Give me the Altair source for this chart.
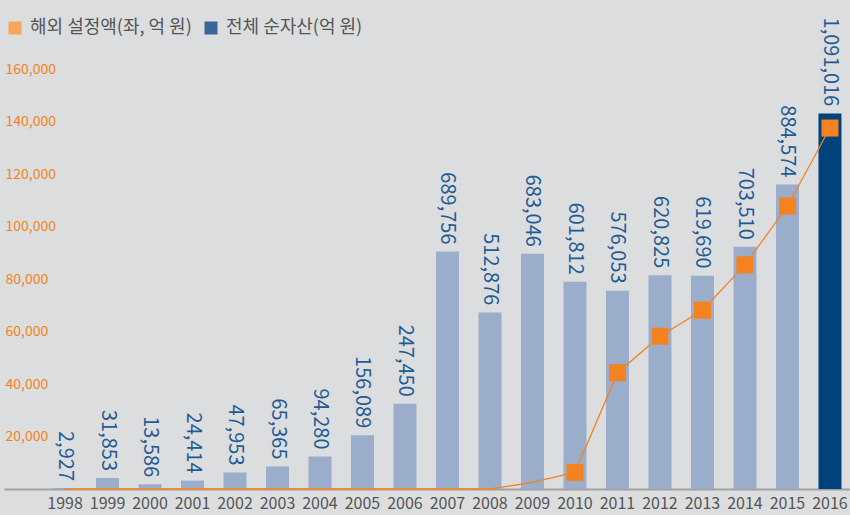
import altair as alt
import pandas as pd

years = ["1998", "1999", "2000", "2001", "2002", "2003", "2004", "2005", "2006", "2007",
         "2008", "2009", "2010", "2011", "2012", "2013", "2014", "2015", "2016"]
total_assets = [2927, 31853, 13586, 24414, 47953, 65365, 94280, 156089, 247450, 689756,
                512876, 683046, 601812, 576053, 620825, 619690, 703510, 884574, 1091016]
overseas = [0, 0, 0, 0, 0, 0, 0, 0, 0, 0, 0, 2500, 6300, 44300, 58200, 68100, 85400, 107800, 137500]
marker_years = ["2010", "2011", "2012", "2013", "2014", "2015", "2016"]
legend_names = ["해외 설정액(좌, 억 원)", "전체 순자산(억 원)"]
legend_colors = ["#F9A55A", "#3A6698"]
y_ticks = [20000, 40000, 60000, 80000, 100000, 120000, 140000, 160000]

df = pd.DataFrame({
    "year": years,
    "total": total_assets,
    "overseas": overseas,
})
df["label"] = df["total"].map(lambda v: f"{v:,}")
df["latest"] = df["year"] == "2016"
df["marker"] = df["year"].isin(marker_years)

FONT = "Noto Sans CJK KR"

xscale = alt.Scale(paddingInner=0.459, paddingOuter=0.683, align=0.853)
x = alt.X("year:N", scale=xscale, sort=years,
          axis=alt.Axis(title=None, labelAngle=0, labelFontSize=16, labelColor="#555555",
                        labelFont=FONT, labelPadding=6, ticks=False,
                        domainColor="#A0A0A0", domainWidth=2))

bar_y = alt.Y("total:Q", scale=alt.Scale(domain=[0, 1220000], nice=False), axis=None)

bars = alt.Chart(df).mark_bar().encode(
    x=x,
    y=bar_y,
    color=alt.condition("datum.latest", alt.value("#00427A"), alt.value("#9AADCB")),
)

labels = alt.Chart(df).mark_text(
    angle=90, align="right", baseline="middle", dx=-7,
    fontSize=20, font=FONT, color="#1F5B94",
).encode(x=x, y=bar_y, text="label:N")

line_y = alt.Y("overseas:Q", scale=alt.Scale(domain=[0, 160000], nice=False),
               axis=alt.Axis(title=None, values=y_ticks, format=",d", orient="left",
                             labelAlign="left", labelPadding=-1, ticks=False, tickSize=0,
                             domain=False, grid=False, labelFontSize=14,
                             labelColor="#F58220", labelFont=FONT))

line = alt.Chart(df).mark_line(color="#F58220", strokeWidth=1.3).encode(x=x, y=line_y)

markers = alt.Chart(df).transform_filter("datum.marker").mark_square(
    color="#F58220", size=290, opacity=1
).encode(x=x, y=line_y)

legend_df = pd.DataFrame({"name": legend_names})
legend_layer = alt.Chart(legend_df).mark_square(opacity=0).encode(
    x=alt.value(0), y=alt.value(0),
    color=alt.Color("name:N", sort=legend_names,
                    scale=alt.Scale(domain=legend_names, range=legend_colors),
                    legend=alt.Legend(title=None, orient="none", legendX=2, legendY=-50,
                                      direction="horizontal", symbolType="square",
                                      symbolSize=169, symbolOpacity=1, symbolStrokeWidth=0,
                                      labelFontSize=18, labelColor="#555555", labelFont=FONT,
                                      labelOffset=6, columnPadding=10, labelLimit=400)),
)

bar_layer = alt.layer(bars, labels)
line_layer = alt.layer(line, markers)

chart = alt.layer(bar_layer, line_layer, legend_layer).resolve_scale(
    y="independent"
).properties(
    width=846, height=420,
    autosize=alt.AutoSizeParams(type="none"),
    padding={"left": 4, "top": 69, "right": 0, "bottom": 26},
    background="#DCDDDF",
).configure_view(stroke=None)

chart.save("out.html", embed_options={"renderer": "svg", "actions": False})
